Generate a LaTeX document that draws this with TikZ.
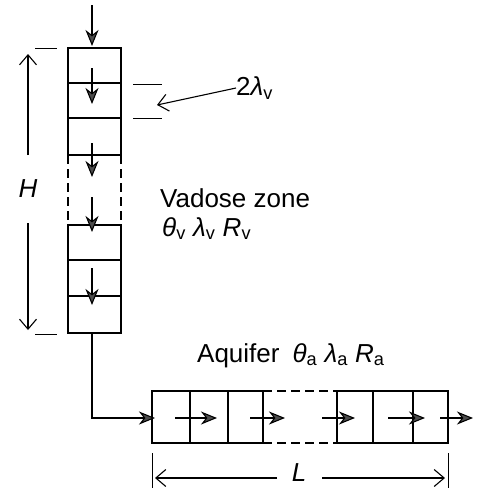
\documentclass[tikz,border=0pt]{standalone}
\usepackage{fontspec}
\setmainfont{Liberation Sans}
\usetikzlibrary{arrows.meta}
\tikzset{
  cell/.style={draw, line width=1.4pt},
  flow/.style={-{Stealth[length=16pt,width=13pt,inset=5pt,fill=gray!60!black]}, line width=1.1pt},
  dim/.style={-{Straight Barb[length=10pt,width=17pt]}, line width=1.1pt},
  lab/.style={font=\fontsize{26}{30}\selectfont, inner sep=0pt},
}
\begin{document}
\begin{tikzpicture}[x=1pt,y=-1pt]
        \useasboundingbox (0,0) rectangle (479,488);

        % Zona vadosa
        \draw[cell] (68,48) rectangle (121,155);
        \draw[cell] (68,83) -- (121,83) (68,118) -- (121,118);
        \draw[cell, dash pattern=on 9pt off 5pt] (68,155) -- (68,225) (121,155) -- (121,225);
        \draw[cell] (68,225) rectangle (121,333);
        \draw[cell] (68,260) -- (121,260) (68,296) -- (121,296);
        \coordinate (vbot) at (92,333);

        % Flujo vertical
        \foreach \a/\b in {5/46, 68/104, 143/177, 197/232, 268/305}
          \draw[flow] (92,\a) -- (92,\b);

        % Espesor H
        \draw[line width=1pt] (35,48) -- (57,48) (35,334) -- (57,334);
        \node[lab] (H) at (28,189) {\itshape H};
        \coordinate (Hs1) at (28,155);
        \coordinate (Hup) at (28,54);
        \coordinate (Hs2) at (28,223);
        \coordinate (Hdn) at (28,330);
        \draw[dim] (Hs1) -- (Hup);
        \draw[dim] (Hs2) -- (Hdn);

        % Celda 2 lambda_v
        \draw[line width=1pt] (133,84) -- (162,84) (133,118) -- (162,118);
        \node[lab, anchor=west] (lamv) at (236,88) {2{\itshape λ}\textsubscript{v}};
        \coordinate (lamtip) at (157,105);
        \draw[dim] (lamv.west) -- (lamtip);

        \node[lab, anchor=base west] (vad) at (160,207) {Vadose zone};
        \node[lab, anchor=base west] (vpar) at (162,236)
          {{\itshape θ}\textsubscript{v} {\itshape λ}\textsubscript{v} {\itshape R}\textsubscript{v}};

        % Acuifero
        \node[lab, anchor=base west] (aqu) at (197,362)
          {Aquifer\enspace{\itshape θ}\textsubscript{a} {\itshape λ}\textsubscript{a} {\itshape R}\textsubscript{a}};
        \draw[cell] (152,391) rectangle (263,443);
        \draw[cell] (190,391) -- (190,443) (228,391) -- (228,443);
        \draw[cell, dash pattern=on 9pt off 5pt] (263,391) -- (337,391) (263,443) -- (337,443);
        \draw[cell] (337,391) rectangle (448,443);
        \draw[cell] (373,391) -- (373,443) (413,391) -- (413,443);
        \coordinate (ain) at (155,418);

        % Conexion
        \draw[flow] (vbot) |- (ain);

        % Flujo horizontal
        \foreach \a/\b in {175/217, 250/285, 322/355, 388/425, 440/473}
          \draw[flow] (\a,418) -- (\b,418);

        % Longitud L
        \draw[line width=1pt] (152,453) -- (152,488) (448,453) -- (448,488);
        \node[lab] (L) at (299,473) {\itshape L};
        \coordinate (Ls1) at (277,478);
        \coordinate (Lleft) at (155,478);
        \coordinate (Ls2) at (322,478);
        \coordinate (Lright) at (445,478);
        \draw[dim] (Ls1) -- (Lleft);
        \draw[dim] (Ls2) -- (Lright);
\end{tikzpicture}
\end{document}
